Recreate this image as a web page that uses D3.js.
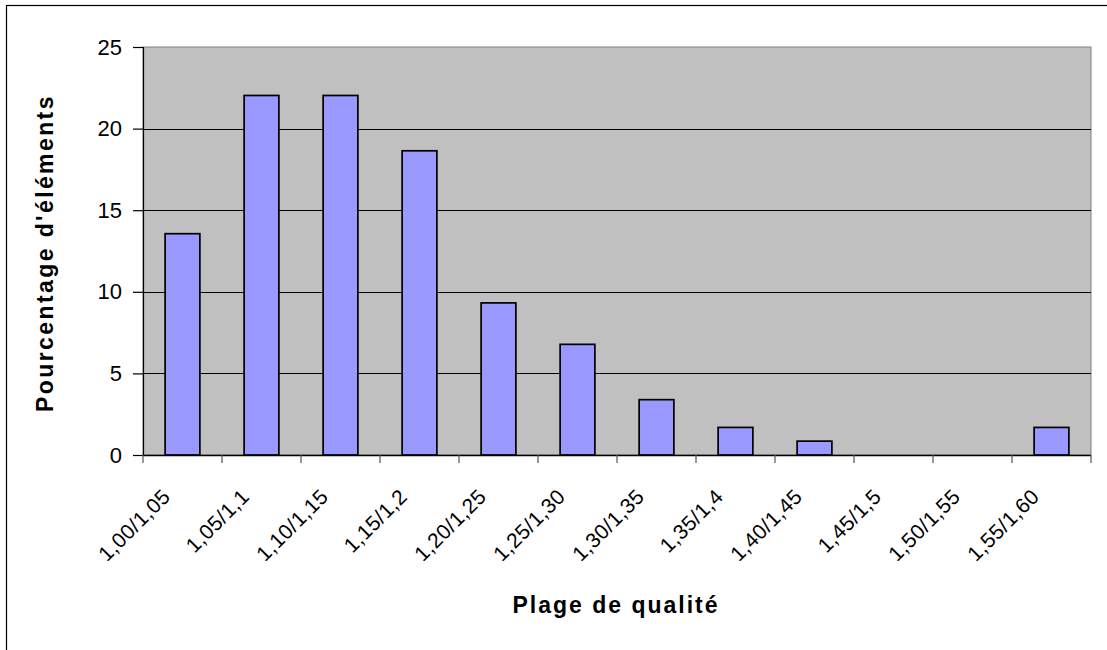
<!DOCTYPE html>
<html>
<head>
<meta charset="utf-8">
<script src="https://cdn.jsdelivr.net/npm/d3@7"></script>
<style>
  body { margin: 0; background: #fff; }
  text { font-family: "Liberation Sans", Arial, sans-serif; }
</style>
</head>
<body>
<svg id="chart" width="1107" height="650"></svg>
<script>
// quality ranges and share of elements (%)
const ranges = ["1,00/1,05", "1,05/1,1", "1,10/1,15", "1,15/1,2", "1,20/1,25", "1,25/1,30",
  "1,30/1,35", "1,35/1,4", "1,40/1,45", "1,45/1,5", "1,50/1,55", "1,55/1,60"];
const percents = [13.56, 22.03, 22.03, 18.64, 9.32, 6.78, 3.39, 1.69, 0.85, 0, 0, 1.69];
const yTicks = [0, 5, 10, 15, 20, 25];

const svg = d3.select("#chart");
const plot = { left: 143, right: 1091, top: 47, bottom: 455 };

// outer chart frame (cut off on right and bottom)
svg.append("rect")
  .attr("x", 6.5).attr("y", 5.5)
  .attr("width", 1200).attr("height", 800)
  .attr("fill", "#fff")
  .attr("stroke", "#000")
  .attr("stroke-width", 1.2);

const xCat = d3.scaleBand().domain(ranges).range([plot.left, plot.right]).padding(0);
const xBar = d3.scaleBand().domain(ranges).range([plot.left, plot.right])
  .paddingInner(0.56).paddingOuter(0.28);
const y = d3.scaleLinear().domain([0, 25]).range([plot.bottom, plot.top]);

// plot area
svg.append("rect")
  .attr("x", plot.left).attr("y", plot.top)
  .attr("width", plot.right - plot.left).attr("height", plot.bottom - plot.top)
  .attr("fill", "#c0c0c0")
  .attr("stroke", "#808080")
  .attr("stroke-width", 1);

// gridlines
svg.append("g")
  .selectAll("line")
  .data(yTicks.filter(v => v > 0 && v < 25))
  .join("line")
  .attr("x1", plot.left).attr("x2", plot.right)
  .attr("y1", d => Math.round(y(d)) + 0.5).attr("y2", d => Math.round(y(d)) + 0.5)
  .attr("stroke", "#000")
  .attr("stroke-width", 1);

// bars
svg.append("g")
  .selectAll("rect")
  .data(ranges.map((r, i) => ({ range: r, value: percents[i] })).filter(d => d.value > 0))
  .join("rect")
  .attr("x", d => xBar(d.range))
  .attr("y", d => y(d.value))
  .attr("width", xBar.bandwidth())
  .attr("height", d => y(0) - y(d.value))
  .attr("fill", "#9999ff")
  .attr("stroke", "#000")
  .attr("stroke-width", 1.7);

// y axis
const yAxis = svg.append("g")
  .attr("transform", `translate(${plot.left},0)`)
  .call(d3.axisLeft(y).tickValues(yTicks).tickSize(10).tickPadding(11).tickFormat(d3.format("d")));
yAxis.select(".domain").attr("stroke", "#000").attr("stroke-width", 1.2);
yAxis.selectAll(".tick line").attr("stroke", "#000").attr("stroke-width", 1.2);
yAxis.selectAll(".tick text")
  .attr("font-size", 22)
  .attr("font-family", "'Liberation Sans', Arial, sans-serif")
  .attr("fill", "#000");

// x axis baseline and ticks between categories
svg.append("line")
  .attr("x1", plot.left).attr("x2", plot.right)
  .attr("y1", plot.bottom + 0.5).attr("y2", plot.bottom + 0.5)
  .attr("stroke", "#000").attr("stroke-width", 1.4);
const boundaries = ranges.map(r => xCat(r)).concat([plot.right]);
svg.append("g")
  .selectAll("line")
  .data(boundaries)
  .join("line")
  .attr("x1", d => d).attr("x2", d => d)
  .attr("y1", plot.bottom).attr("y2", plot.bottom + 8)
  .attr("stroke", "#555").attr("stroke-width", 1.2);

// x tick labels, rotated
svg.append("g")
  .selectAll("text")
  .data(ranges)
  .join("text")
  .attr("transform", d => `translate(${xCat(d) + xCat.bandwidth() / 2 - 11},${plot.bottom + 43}) rotate(-45)`)
  .attr("text-anchor", "end")
  .attr("font-size", 21)
  .attr("letter-spacing", 0.4)
  .attr("fill", "#000")
  .text(d => d);

// axis titles
svg.append("text")
  .attr("x", 616)
  .attr("y", 613)
  .attr("text-anchor", "middle")
  .attr("font-size", 23)
  .attr("font-weight", "bold")
  .attr("letter-spacing", 2)
  .text("Plage de qualité");

svg.append("text")
  .attr("transform", `translate(53,${(plot.top + plot.bottom) / 2 + 2}) rotate(-90)`)
  .attr("text-anchor", "middle")
  .attr("font-size", 23)
  .attr("font-weight", "bold")
  .attr("letter-spacing", 2.4)
  .text("Pourcentage d'éléments");
</script>
</body>
</html>
